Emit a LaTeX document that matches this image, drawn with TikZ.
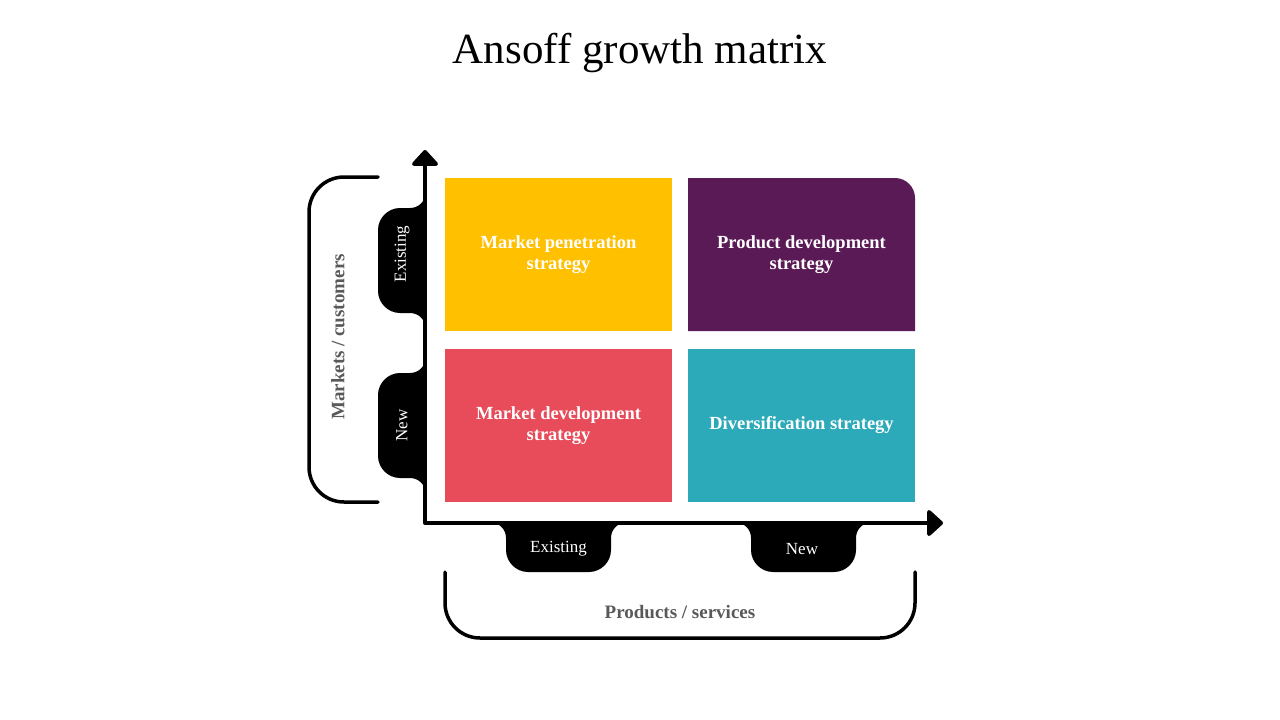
\documentclass[tikz,border=0pt]{standalone}
\usepackage{fontspec}
\setmainfont{Liberation Serif}
\usetikzlibrary{arrows.meta}
\definecolor{ansyellow}{HTML}{FFC000}
\definecolor{ansplum}{HTML}{5A1A55}
\definecolor{ansred}{HTML}{E84B5A}
\definecolor{ansteal}{HTML}{2CAAB9}
\definecolor{ansgray}{HTML}{595959}
\tikzset{%
  >={Triangle[width=30pt,length=17pt,round]},
  % Specifications for style of nodes:
        cell/.style = {rectangle, minimum width=227pt, minimum height=153pt,
                       inner sep=0pt, text=white, align=center,
                       font=\bfseries\fontsize{18.5}{21}\selectfont},
    tablabel/.style = {text=white, font=\fontsize{17}{20}\selectfont},
   sidelabel/.style = {text=ansgray, font=\bfseries\fontsize{19}{22}\selectfont},
       title/.style = {font=\fontsize{43}{50}\selectfont},
  % Specifications for style of lines:
        axis/.style = {line width=4pt, line join=round},
     bracket/.style = {line width=3.5pt, line cap=round, rounded corners=35pt},
}
\begin{document}
\begin{tikzpicture}[x=1pt, y=-1pt]
\useasboundingbox (0,0) rectangle (1280,720);
\node (title) [title] at (640,53) {Ansoff growth matrix};
% Tabs along the two axes
\foreach \t in {208,373}
  \fill (425,\t-14) .. controls (425,\t-6) and (418,\t) .. (410,\t) -- (400,\t)
        .. controls (388,\t) and (378,\t+10) .. (378,\t+22) -- (378,\t+83)
        .. controls (378,\t+95) and (388,\t+105) .. (400,\t+105) -- (410,\t+105)
        .. controls (418,\t+105) and (425,\t+111) .. (425,\t+119) -- cycle;
\foreach \s in {506,751}
  \fill (\s-14,523) .. controls (\s-6,523) and (\s,530) .. (\s,538) -- (\s,550)
        .. controls (\s,562) and (\s+10,572) .. (\s+22,572) -- (\s+83,572)
        .. controls (\s+95,572) and (\s+105,562) .. (\s+105,550) -- (\s+105,538)
        .. controls (\s+105,530) and (\s+111,523) .. (\s+119,523) -- cycle;
% Axes
\coordinate (ytip) at (425,150);
\coordinate (xtip) at (943,523);
\draw[axis, <->] (ytip) |- (xtip);
% Specification of nodes (position, etc.)
\fill[ansplum] (688,178) -- (895,178) .. controls (906,178) and (915,187)
      .. (915,198) -- (915,331) -- (688,331) -- cycle;
\node (penetration) [cell, fill=ansyellow] at (558.5,254.5)
                                        {Market penetration\\strategy};
\node (proddev)     [cell] at (801.5,254.5) {Product development\\strategy};
\node (marketdev)   [cell, fill=ansred] at (558.5,425.5)
                                        {Market development\\strategy};
\node (diversify)   [cell, fill=ansteal] at (801.5,425.5)
                                        {Diversification strategy};
\node (mexisting) [tablabel, rotate=90] at (402,254) {Existing};
\node (mnew)      [tablabel, rotate=90] at (402,425.5) {New};
\node (pexisting) [tablabel] at (558.5,549) {Existing};
\node (pnew)      [tablabel] at (802,549) {New};
% Brackets
\draw[bracket] (378,177) -- (309,177) -- (309,502) -- (378,502);
\draw[bracket] (445,572) -- (445,638) -- (915,638) -- (915,572);
\node (markets)  [sidelabel, rotate=90] at (338,337) {Markets / customers};
\node (products) [sidelabel] at (680,612) {Products / services};
\end{tikzpicture}
\end{document}
